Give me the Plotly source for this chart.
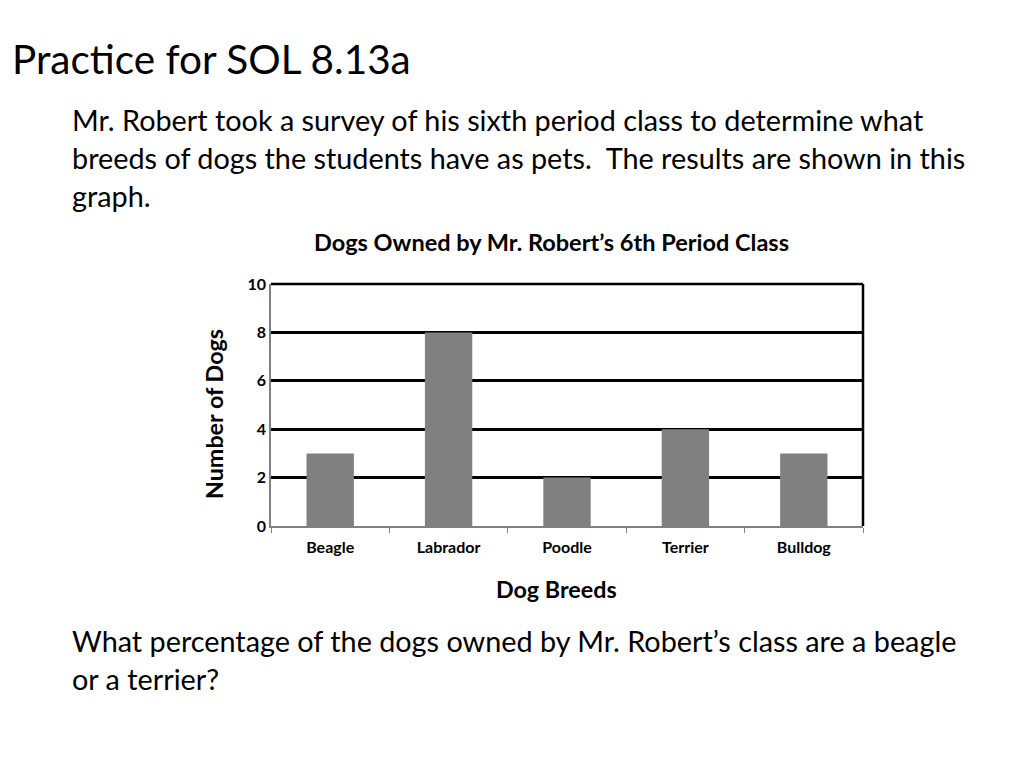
import plotly.graph_objects as go

breeds = ["Beagle", "Labrador", "Poodle", "Terrier", "Bulldog"]
counts = [3, 8, 2, 4, 3]
y_ticks = [0, 2, 4, 6, 8, 10]

heading = "Practice for SOL 8.13a"
intro_lines = [
    "Mr. Robert took a survey of his sixth period class to determine what",
    "breeds of dogs the students have as pets.  The results are shown in this",
    "graph.",
]
question_lines = [
    "What percentage of the dogs owned by Mr. Robert\u2019s class are a beagle",
    "or a terrier?",
]
chart_title = "Dogs Owned by Mr. Robert\u2019s 6th Period Class"

OFF = 8  # browser body margin
W, H = 1024, 768
L, R, T, B = 271 - OFF, 863 - OFF, 284 - OFF, 526 - OFF
FONT = "Lato"


def px(x):
    return (x - OFF - L) / (R - L)


def py(y):
    return (B - (y - OFF)) / (B - T)


fig = go.Figure()
fig.add_trace(go.Bar(x=breeds, y=counts, width=0.4,
                     marker=dict(color="#808080", line=dict(width=0))))

ann = []
ann.append(dict(text=heading, x=px(10), y=py(58), xanchor="left", yanchor="middle",
                font=dict(size=40.5, color="black", family=FONT)))
for i, t in enumerate(intro_lines):
    ann.append(dict(text=t, x=px(70), y=py(120 + 38 * i), xanchor="left", yanchor="middle",
                    font=dict(size=28.8, color="black", family=FONT)))
for i, t in enumerate(question_lines):
    ann.append(dict(text=t, x=px(70), y=py(641 + 38 * i), xanchor="left", yanchor="middle",
                    font=dict(size=28.8, color="black", family=FONT)))
ann.append(dict(text="<b>" + chart_title + "</b>", x=px(551), y=py(242), xanchor="center",
                yanchor="middle", font=dict(size=23.5, color="black", family=FONT)))
ann.append(dict(text="<b>Dog Breeds</b>", x=px(556), y=py(589), xanchor="center",
                yanchor="middle", font=dict(size=23.3, color="black", family=FONT)))
ann.append(dict(text="<b>Number of Dogs</b>", x=px(214), y=py(414), xanchor="center",
                yanchor="middle", textangle=-90, font=dict(size=23.3, color="black", family=FONT)))
for a in ann:
    a.update(xref="paper", yref="paper", showarrow=False)

fig.update_layout(
    width=W, height=H,
    margin=dict(l=L, r=W - R, t=T, b=H - B, pad=0),
    paper_bgcolor="white", plot_bgcolor="white",
    showlegend=False,
    annotations=ann,
    shapes=[
        dict(type="line", xref="paper", yref="paper", x0=1, x1=1, y0=0, y1=1,
             line=dict(color="black", width=2.5)),
        dict(type="line", xref="paper", yref="paper", x0=0, x1=1, y0=1, y1=1,
             line=dict(color="black", width=2.5)),
    ],
    xaxis=dict(showline=True, linecolor="#808080", linewidth=1.5, showgrid=False,
               ticks="outside", tickson="boundaries", ticklen=5, tickcolor="#808080",
               ticklabelstandoff=6,
               tickvals=breeds, ticktext=["<b>" + b + "</b>" for b in breeds],
               tickfont=dict(size=16, color="black", family=FONT),
               fixedrange=True),
    yaxis=dict(range=[0, 10], tickvals=y_ticks, ticktext=["<b>%d</b>" % v for v in y_ticks],
               showline=True, linecolor="#808080",
               linewidth=1.5, showgrid=True, gridcolor="black", gridwidth=2.5,
               zeroline=False, ticks="", ticklen=0, ticklabelstandoff=0,
               tickfont=dict(size=16, color="black", family=FONT),
               fixedrange=True),
)

fig.write_html("out.html")
